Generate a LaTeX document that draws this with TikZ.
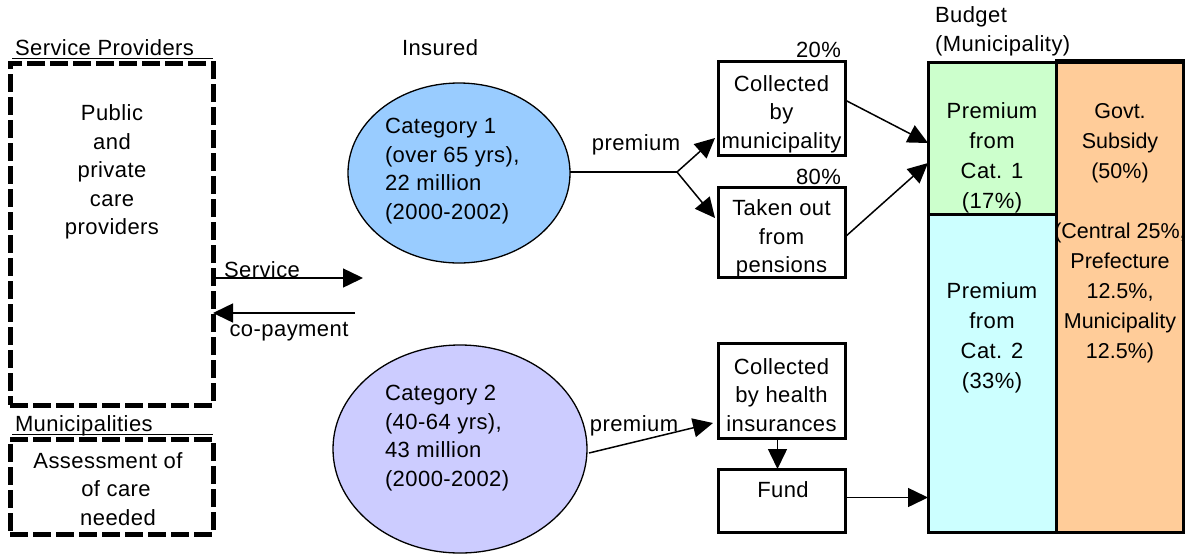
\documentclass[tikz,border=0pt]{standalone}
\usepackage{fontspec}
\setmainfont[LetterSpace=2]{Liberation Sans}
\newfontfamily\tightfont{Liberation Sans}
\usetikzlibrary{arrows.meta,calc,shapes.geometric}
\definecolor{catone}{HTML}{99CCFF}
\definecolor{cattwo}{HTML}{CCCCFF}
\definecolor{bgreen}{HTML}{CCFFCC}
\definecolor{bcyan}{HTML}{CCFFFF}
\definecolor{borange}{HTML}{FFCC99}
\begin{document}
\begin{tikzpicture}[x=1pt,y=-1pt,
  every node/.style={inner sep=0pt, outer sep=0pt, font=\fontsize{22}{28.5}\selectfont},
  txt/.style={align=center},
  ltxt/.style={align=left, anchor=west},
  dashbox/.style={draw, line width=5pt, dash pattern=on 18pt off 5pt, rectangle},
  plainbox/.style={draw, line width=3pt, rectangle, minimum width=127pt},
  cell/.style={draw, line width=3pt, rectangle},
  cat/.style={draw, line width=1.3pt, ellipse},
  arr/.style={line width=1.5pt, -{Triangle[length=20pt,width=19pt]}},
  plain/.style={line width=1.5pt},
  thin/.style={line width=1pt},
  btxt/.style={align=center, font=\fontsize{22}{30}\selectfont},
  otxt/.style={align=center, font=\tightfont\fontsize{21.5}{30}\selectfont}
  ]
\useasboundingbox[fill=white] (0,0) rectangle (1188,555);

% left boxes
\node[dashbox, minimum width=203pt, minimum height=342pt] (spbox) at (111.5,234) {};
\node[dashbox, minimum width=203pt, minimum height=95pt] (mubox) at (111.5,486.5) {};
\draw[thin] ($(spbox.north west)+(2,-5)$) -- ($(spbox.north east)+(0,-5)$);
\draw[thin] ($(mubox.north west)+(2,-5)$) -- ($(mubox.north east)+(0,-5)$);
\node[ltxt] (splabel) at (15,48) {Service Providers};
\node[ltxt] (mulabel) at (15,426) {Municipalities};
\node[txt] (sptxt) at (112,172) {Public\\and\\private\\care\\providers};
\node[txt] (mutxt) at (108,489) {Assessment of\\\hspace*{16pt}of care\\\hspace*{20pt}needed};

% insured
\node[ltxt] (inslabel) at (402,48) {Insured};
\node[cat, fill=catone, minimum width=222pt, minimum height=180pt] (cat1) at (459,173) {};
\node[cat, fill=cattwo, minimum width=254pt, minimum height=208pt] (cat2) at (460,449) {};
\node[ltxt] (cat1txt) at (385,171) {Category 1\\(over 65 yrs),\\22 million\\(2000-2002)};
\node[ltxt] (cat2txt) at (385,438) {Category 2\\(40-64 yrs),\\43 million\\(2000-2002)};

% service / co-payment
\coordinate (svcend) at (363,278);
\coordinate (copstart) at (355,313);
\draw[arr] (spbox.east |- svcend) -- (svcend);
\draw[arr] (copstart) -- (copstart -| spbox.east);
\node[anchor=base west] (svclabel) at (224,277) {Service};
\node (coplabel) at (289,332) {co-payment};

% middle boxes
\node[plainbox, minimum height=94pt] (collmun) at (781.5,108) {};
\node[plainbox, minimum height=90pt] (taken) at (781.5,232) {};
\node[plainbox, minimum height=95pt] (collhealth) at (781.5,390.5) {};
\node[plainbox, minimum height=63pt] (fund) at (781.5,500.5) {};
\node[txt] (collmuntxt) at (781.5,114) {Collected\\by\\municipality};
\node[txt] (takentxt) at (781.5,238.5) {Taken out\\from\\pensions};
\node[txt] (collhealthtxt) at (781.5,395) {Collected\\by health\\insurances};
\node[txt] (fundtxt) at (783,490) {Fund};
\node[anchor=east] (pct20) at (841,50) {20\%};
\node[anchor=east] (pct80) at (841,177) {80\%};

% budget
\node[cell, fill=borange, minimum width=127pt, minimum height=472pt] (orange) at (1119.5,296) {};
\node[cell, fill=bgreen, minimum width=128pt, minimum height=152pt] (green) at (992,138) {};
\node[cell, fill=bcyan, minimum width=128pt, minimum height=318pt] (cyan) at (992,373) {};
\draw[line width=3pt] (green.north west) rectangle (orange.south east);
\node[ltxt] (budlabel) at (935,31.5) {Budget\\(Municipality)};
\node[btxt] (greentxt) at (992,158) {Premium\\from\\Cat. 1\\(17\%)};
\node[otxt] (orangetxt) at (1120,233) {Govt.\\Subsidy\\(50\%)\\~\\(Central 25\%,\\Prefecture\\12.5\%,\\Municipality\\12.5\%)};
\node[btxt] (cyantxt) at (992,338) {Premium\\from\\Cat. 2\\(33\%)};

% premium flows
\coordinate (fork) at (677,172);
\draw[plain] (cat1.east |- fork) -- (fork);
\draw[arr] (fork) -- ($(collmun.south west)+(-3,-17)$);
\draw[arr] (fork) -- ($(taken.north west)+(-3,31)$);
\node (prem1) at (636,145) {premium};
\draw[arr] ($(collmun.east)+(0,-8)$) -- ($(green.west)+(0,5)$);
\draw[arr] ($(taken.east)+(0,5)$) -- ($(green.west)+(0,25)$);

\node (prem2) at (634,426) {premium};
\draw[arr] ($(cat2.east)+(2,4)$) -- ($(collhealth.south west)+(-5,-15)$);
\draw[arr] ($(collhealth.south)+(-4,0)$) -- ($(fund.north)+(-4,0)$);
\coordinate (fundout) at ($(fund.east)+(0,-3)$);
\draw[arr] (fundout) -- (fundout -| cyan.west);
\end{tikzpicture}
\end{document}
